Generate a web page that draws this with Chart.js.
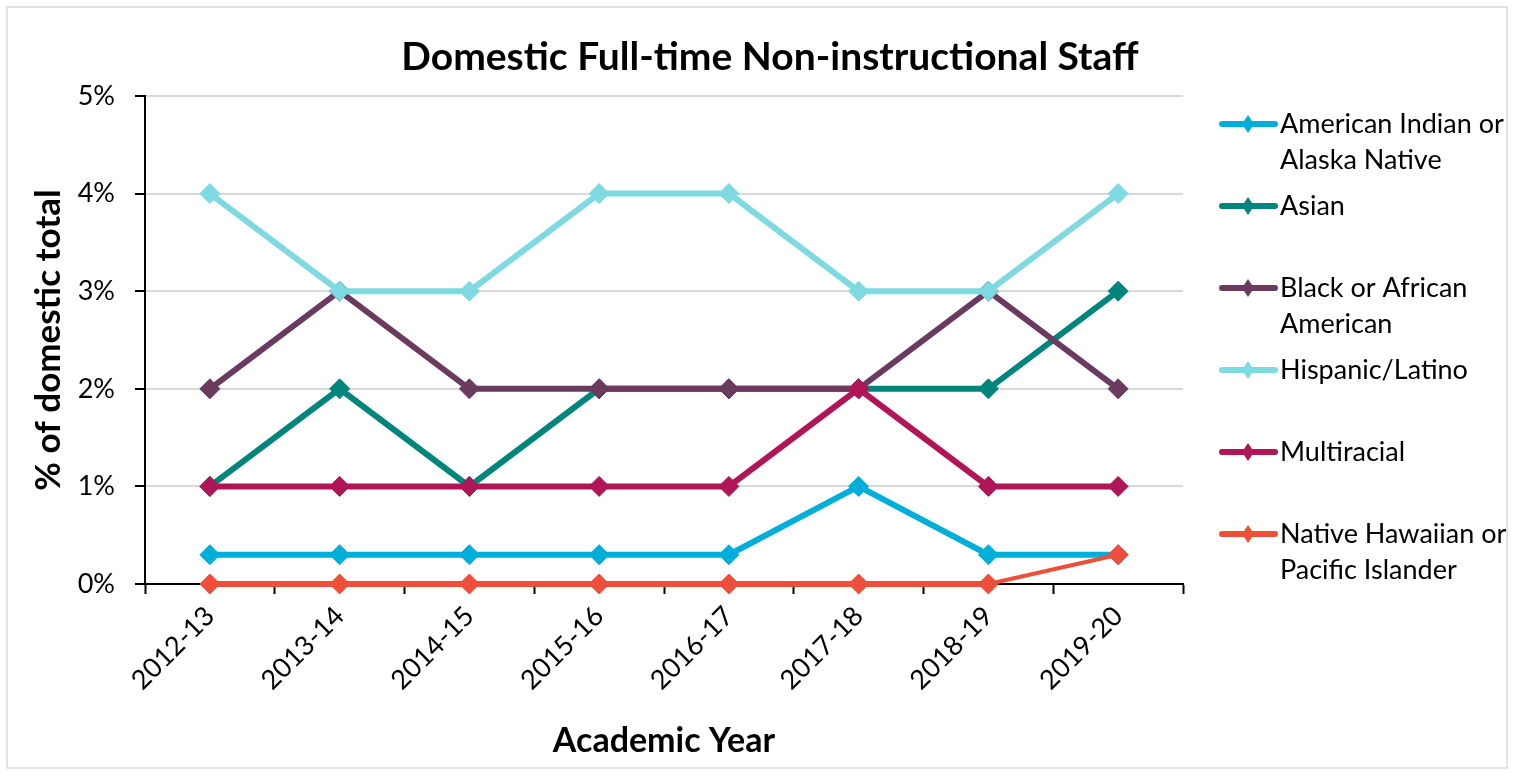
<!DOCTYPE html>
<html lang="en">
<head>
<meta charset="UTF-8">
<title>Domestic Full-time Non-instructional Staff</title>
<script src="https://cdn.jsdelivr.net/npm/chart.js"></script>
<style>
    body { margin: 0; background: #fff; }
    .wrap { width: 1513px; height: 776px; position: relative; }
</style>
</head>
<body>
<div class="wrap"><canvas id="staffChart"></canvas></div>
<script>
    const years = ['2012-13', '2013-14', '2014-15', '2015-16', '2016-17', '2017-18', '2018-19', '2019-20'];
    const seriesNames = ['American Indian or\nAlaska Native', 'Asian', 'Black or African\nAmerican', 'Hispanic/Latino', 'Multiracial', 'Native Hawaiian or\nPacific Islander'];

    const americanIndian = [0.3, 0.3, 0.3, 0.3, 0.3, 1, 0.3, 0.3];
    const asian = [1, 2, 1, 2, 2, 2, 2, 3];
    const blackAfrican = [2, 3, 2, 2, 2, 2, 3, 2];
    const hispanic = [4, 3, 3, 4, 4, 3, 3, 4];
    const multiracial = [1, 1, 1, 1, 1, 2, 1, 1];
    const nativeHawaiian = [0, 0, 0, 0, 0, 0, 0, 0.3];

    const seriesColors = ['#00AEDA', '#00857D', '#6B3A5F', '#7FD9E0', '#B01657', '#EE4F3A'];
    const allSeries = [americanIndian, asian, blackAfrican, hispanic, multiracial, nativeHawaiian];

    const FONT = 'Lato, "Open Sans", sans-serif';

    const datasets = allSeries.map((vals, i) => ({
        label: seriesNames[i],
        data: vals,
        borderColor: seriesColors[i],
        backgroundColor: seriesColors[i],
        borderWidth: 6,
        pointStyle: 'rectRot',
        pointRadius: 10,
        pointBorderWidth: 1,
        pointHoverRadius: 10,
        tension: 0,
        clip: false,
        order: allSeries.length - i, // later series on top, like the original
        segment: i === 5 ? { borderWidth: c => c.p1DataIndex === 7 ? 4 : 6 } : undefined
    }));

    // frame + title
    const frame = {
        id: 'frame',
        beforeDraw(chart) {
            const c = chart.ctx;
            c.save();
            c.fillStyle = '#fff';
            c.fillRect(0, 0, chart.width, chart.height);
            c.strokeStyle = '#d9d9d9';
            c.lineWidth = 1.5;
            c.strokeRect(7, 7, 1500, 761);
            c.restore();
        },
        afterDraw(chart) {
            const c = chart.ctx;
            c.save();
            c.fillStyle = '#000';
            c.font = 'bold 39px ' + FONT;
            c.textAlign = 'center';
            c.textBaseline = 'middle';
            c.fillText('Domestic Full-time Non-instructional Staff', 770, 57);
            c.restore();
        }
    };

    // legend at the right, with two-line labels
    const sideLegend = {
        id: 'sideLegend',
        afterDraw(chart) {
            const c = chart.ctx;
            c.save();
            c.font = '27px ' + FONT;
            c.textBaseline = 'middle';
            c.textAlign = 'left';
            chart.data.datasets.forEach((ds, i) => {
                const y = 124 + i * 82;
                c.strokeStyle = ds.borderColor;
                c.lineWidth = 6;
                c.lineCap = 'round';
                c.beginPath();
                c.moveTo(1222, y);
                c.lineTo(1275, y);
                c.stroke();
                c.fillStyle = ds.borderColor;
                c.beginPath();
                c.moveTo(1248, y - 9);
                c.lineTo(1254, y);
                c.lineTo(1248, y + 9);
                c.lineTo(1242, y);
                c.closePath();
                c.fill();
                c.fillStyle = '#000';
                ds.label.split('\n').forEach((line, k) => {
                    c.fillText(line, 1280, y + k * 36);
                });
            });
            c.restore();
        }
    };

    new Chart(document.getElementById('staffChart'), {
        type: 'line',
        data: { labels: years, datasets: datasets },
        options: {
            responsive: true,
            maintainAspectRatio: false,
            animation: false,
            layout: { padding: { top: 96, right: 330, left: 0, bottom: 0 } },
            plugins: {
                legend: { display: false },
                title: { display: false },
                tooltip: { enabled: false }
            },
            scales: {
                x: {
                    offset: true,
                    grid: { offset: true, drawOnChartArea: false, drawTicks: true, tickLength: 10, tickColor: '#000', tickWidth: 2 },
                    border: { color: '#000', width: 2 },
                    ticks: { color: '#000', font: { family: FONT, size: 27 }, minRotation: 45, maxRotation: 45, padding: 6 },
                    title: { display: true, text: 'Academic Year', color: '#000', font: { family: FONT, size: 34, weight: 'bold' }, padding: { top: 4, bottom: 15 } },
                    afterFit(scale) { scale.height = 192; }
                },
                y: {
                    min: 0,
                    max: 5,
                    ticks: { stepSize: 1, color: '#000', font: { family: FONT, size: 27 }, padding: 20, callback: v => v + '%' },
                    grid: { color: '#d9d9d9', lineWidth: 2, tickLength: 10, tickColor: '#000', tickWidth: 2 },
                    border: { color: '#000', width: 2 },
                    title: { display: true, text: '% of domestic total', color: '#000', font: { family: FONT, size: 35, weight: 'bold' }, padding: { top: 28, bottom: 0 } },
                    afterFit(scale) { scale.width = 145; }
                }
            }
        },
        plugins: [frame, sideLegend]
    });
</script>
</body>
</html>
